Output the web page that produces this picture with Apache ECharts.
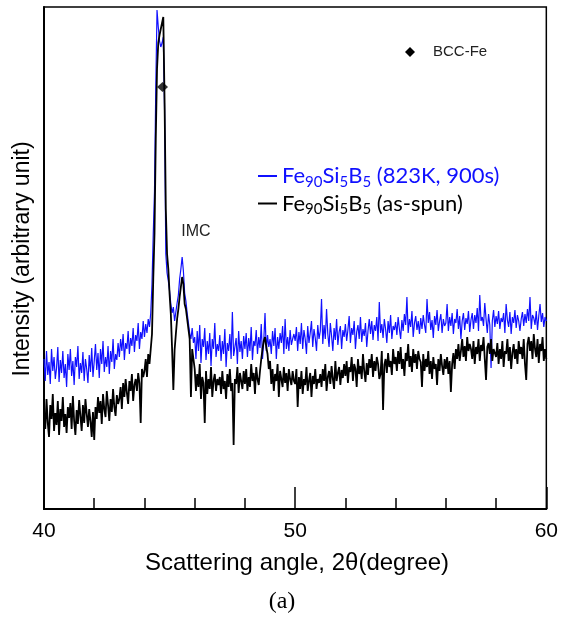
<!DOCTYPE html>
<html><head><meta charset="utf-8">
<script src="https://cdn.jsdelivr.net/npm/echarts@6/dist/echarts.min.js"></script>
<style>html,body{margin:0;padding:0;background:#fff}#c{width:561px;height:618px}</style>
</head><body><div id="c"></div>
<script>
// scan grid (2-theta, degree)
const scanStart = 40, scanStep = 0.05;
// Fe90Si5B5 annealed 823K 900s (blue), arbitrary units
const annealed = [
150,128,158,134,147,125,160,138,152,130,141,162,127,149,136,158,131,145,122,155,
139,160,133,148,124,152,142,163,130,146,136,157,128,150,140,126,154,137,161,132,
148,165,139,156,131,160,145,168,137,152,142,163,135,158,147,170,140,155,149,166,
152,170,158,175,149,166,160,178,155,171,163,181,157,174,168,186,160,177,170,188,
172,185,176,190,182,196,225,275,318,420,499,482,468,462,466,472,400,255,236,228,
218,205,196,202,188,197,206,214,230,240,252,238,216,208,196,186,176,170,181,166,
172,150,178,158,184,146,170,162,181,149,168,155,176,143,170,160,186,152,165,158,
174,148,168,155,180,142,166,158,175,150,197,153,162,171,145,178,157,168,150,173,
160,176,152,171,158,182,149,168,163,179,155,172,161,185,150,168,196,158,174,162,
170,155,178,163,181,150,172,160,176,166,183,155,190,160,172,158,179,164,170,175,
168,182,158,177,165,186,160,179,170,155,183,166,176,188,162,180,171,158,184,170,
178,210,165,184,170,200,175,162,186,173,158,181,169,190,164,177,183,160,179,172,
185,168,179,193,166,181,174,188,160,177,184,170,192,167,180,173,186,162,178,190,
175,188,169,184,178,192,168,207,176,185,171,190,180,166,188,176,194,170,183,179,
187,174,192,180,170,189,178,195,184,212,176,190,182,198,172,186,193,179,188,175,
191,180,194,184,176,210,186,197,179,189,171,193,184,199,178,188,195,176,190,183,
186,205,178,192,183,196,175,190,186,200,180,193,170,188,196,179,191,185,198,177,
189,196,180,194,186,201,178,214,188,192,183,206,190,176,195,184,141,188,199,182,
193,185,198,180,191,187,196,176,205,189,182,197,175,192,186,199,181,194,188,178,
190,197,183,195,186,200,188,212,180,194,191,184,198,179,193,205,187,196,182,192,188
];
// Fe90Si5B5 as-spun (black)
const asSpun = [
98,80,110,86,72,104,90,115,78,96,84,108,74,100,88,112,82,95,76,102,
91,106,80,113,88,74,99,85,109,93,78,104,86,110,95,82,100,88,72,97,
69,102,90,112,96,108,85,115,100,92,118,104,88,110,97,120,102,93,114,105,
110,122,100,126,112,130,116,105,128,118,135,108,124,130,118,136,126,86,140,132,
138,150,132,155,145,160,175,230,276,370,440,466,474,480,486,492,409,300,255,240,
215,195,160,119,159,175,190,200,212,222,232,225,205,200,190,180,170,112,160,150,
140,118,135,122,145,110,132,126,86,138,115,130,120,142,112,128,135,118,130,124,
132,115,138,120,128,110,135,122,140,118,126,64,130,125,142,116,136,128,120,138,
125,140,118,132,122,145,128,136,115,142,130,124,138,150,160,168,172,162,155,140,
148,125,140,118,135,128,145,112,138,130,122,142,126,136,118,140,130,124,138,128,
125,140,102,132,120,138,115,130,124,142,118,128,136,112,133,125,140,120,130,126,
135,122,140,128,145,118,132,138,125,143,130,120,148,128,136,142,124,139,131,145,
133,148,126,142,137,152,128,145,140,122,150,135,143,130,155,138,127,146,134,150,
141,155,132,148,138,152,145,130,135,158,99,144,150,136,156,142,148,134,160,145,
152,138,158,145,162,140,150,133,156,148,165,142,153,137,160,146,155,140,158,150,
147,122,155,138,150,142,158,135,148,130,152,140,145,124,150,138,155,143,134,150,
140,152,135,148,117,145,156,140,160,150,165,148,158,170,152,163,148,172,158,165,
160,150,168,145,162,155,170,148,164,158,172,150,129,162,166,155,170,148,160,158,
152,166,145,160,150,168,142,158,155,170,148,162,140,156,165,150,160,145,168,155,
162,150,170,145,129,165,172,158,168,150,175,160,152,170,146,165,158,172,148,160,150
];
// BCC-Fe marker on peak [2theta, intensity]
const bccMarks = [[44.72, 422]];
const xTickLabels = ['40', '50', '60'];
const seriesNames = ['Fe90Si5B5 (823K, 900s)', 'Fe90Si5B5 (as-spun)'];

const toPairs = arr => arr.map((v, i) => [+(scanStart + i * scanStep).toFixed(2), v]);
const SANS = '"Liberation Sans", Arial, sans-serif';
const chart = echarts.init(document.getElementById('c'), null, {renderer: 'canvas'});
chart.setOption({
  animation: false,
  grid: {left: 44, right: 13, top: 7, bottom: 109, show: true, borderColor: '#000', borderWidth: 1.5},
  xAxis: {
    type: 'value', min: 40, max: 60, interval: 10,
    axisLine: {show: true, onZero: false, lineStyle: {color: '#000', width: 2}},
    axisTick: {show: true, inside: true, length: 22, lineStyle: {color: '#000', width: 1.5}},
    minorTick: {show: true, splitNumber: 5, length: 11, lineStyle: {color: '#000', width: 1.5}},
    axisLabel: {margin: 12, fontSize: 21, fontFamily: SANS, color: '#000',
      formatter: v => xTickLabels.includes(String(v)) ? String(v) : ''},
    splitLine: {show: false}, minorSplitLine: {show: false}
  },
  yAxis: {
    type: 'value', min: 0, max: 502,
    axisLine: {show: true, lineStyle: {color: '#000', width: 2}},
    axisTick: {show: false}, axisLabel: {show: false}, splitLine: {show: false}
  },
  legend: {
    data: [
      {name: seriesNames[0], textStyle: {color: '#1010ff'}},
      {name: seriesNames[1], textStyle: {color: '#000'}}
    ],
    orient: 'vertical', left: 258, top: 165, padding: 0, itemGap: 3,
    itemWidth: 19, itemHeight: 2, icon: 'rect', selectedMode: false,
    formatter: name => '{m|Fe}{s|90}{m|Si}{s|5}{m|B}{s|5}{m|' + name.slice(9) + '}',
    textStyle: {
      fontFamily: 'Lato', fontSize: 22,
      rich: {
        m: {fontFamily: 'Lato', fontSize: 22, lineHeight: 27},
        s: {fontFamily: 'Lato', fontSize: 15, lineHeight: 15, verticalAlign: 'bottom'}
      }
    }
  },
  series: [
    {name: seriesNames[0], type: 'line', data: toPairs(annealed), showSymbol: false, symbol: 'none',
     lineStyle: {color: '#1010ff', width: 1.2}, itemStyle: {color: '#1010ff'}, z: 2},
    {name: seriesNames[1], type: 'line', data: toPairs(asSpun), showSymbol: false, symbol: 'none',
     lineStyle: {color: '#000', width: 1.8}, itemStyle: {color: '#000'}, z: 3},
    {name: 'BCC-Fe', type: 'scatter', data: bccMarks, symbol: 'diamond', symbolSize: [11, 10],
     itemStyle: {color: '#000'}, z: 5}
  ],
  graphic: [
    {type: 'text', x: 23, y: 259, rotation: Math.PI / 2,
     style: {text: 'Intensity (arbitrary unit)', font: '23px ' + SANS, fill: '#000',
       textAlign: 'center', textVerticalAlign: 'middle', align: 'center', verticalAlign: 'middle'}},
    {type: 'text', x: 297, y: 563,
     style: {text: 'Scattering angle, 2θ(degree)', font: '24px ' + SANS, fill: '#000',
       textAlign: 'center', textVerticalAlign: 'middle', align: 'center', verticalAlign: 'middle'}},
    {type: 'text', x: 282, y: 602,
     style: {text: '(a)', font: '24px "Liberation Serif", serif', fill: '#000',
       textAlign: 'center', textVerticalAlign: 'middle', align: 'center', verticalAlign: 'middle'}},
    {type: 'text', x: 196, y: 232,
     style: {text: 'IMC', font: '16px ' + SANS, fill: '#222',
       textAlign: 'center', textVerticalAlign: 'middle', align: 'center', verticalAlign: 'middle'}},
    {type: 'polygon', shape: {points: [[410, 47], [415, 52], [410, 57], [405, 52]]}, style: {fill: '#000'}},
    {type: 'text', x: 433, y: 52,
     style: {text: 'BCC-Fe', font: '15px ' + SANS, fill: '#222',
       textAlign: 'left', textVerticalAlign: 'middle', align: 'left', verticalAlign: 'middle'}}
  ]
});
</script></body></html>
